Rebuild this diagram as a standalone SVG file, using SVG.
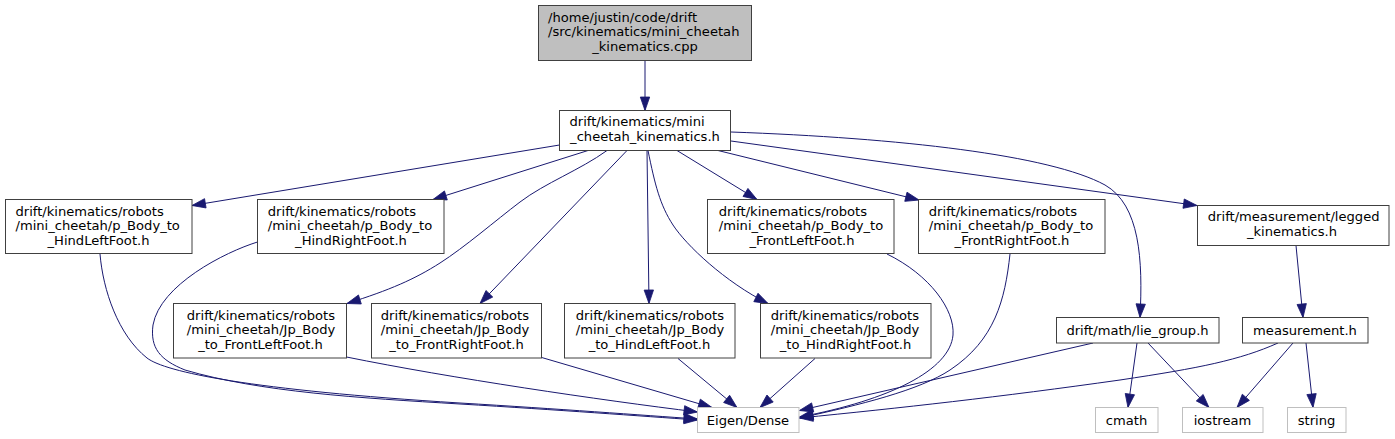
<svg xmlns="http://www.w3.org/2000/svg" width="1395" height="439" viewBox="0 0 1395 439">
<defs>
<style>
.n rect{fill:#fff;stroke:#404040;stroke-width:1}
.root rect{fill:#bfbfbf}
.leaf rect{stroke:#bfbfbf}
text{font-family:"DejaVu Sans","Liberation Sans",sans-serif;font-size:13.1px;fill:#000}
.m{text-anchor:middle}
.e path{fill:none;stroke:#191970;stroke-width:1;marker-end:url(#arr)}
</style>
<marker id="arr" markerUnits="userSpaceOnUse" markerWidth="14" markerHeight="10" viewBox="0 0 14 10" refX="13.5" refY="5" orient="auto" overflow="visible">
<path d="M0,0.3 L13.5,5 L0,9.7 z" fill="#191970" stroke="#191970" stroke-width="0.8"/>
</marker>
</defs>
<rect width="1395" height="439" fill="#fff"/>
<g class="e" id="edges">
<path d="M645,60.5 L645,110.5"/>
<path d="M559.5,145 L192,205.5"/>
<path d="M588,150.5 L433,199.5"/>
<path d="M607,150.5 C580,170 545,183 520,202 C495,221 465,247 440,263 C415,279 390,290 347,303.5"/>
<path d="M627,150.5 L480,303.5"/>
<path d="M647,150.5 L649,303.5"/>
<path d="M648,150.5 C655,185 660,205 673,225 C686,245 725,282 768,303.5"/>
<path d="M677,150.5 L757,199.5"/>
<path d="M718,150.5 L919,200"/>
<path d="M731,141 L1197,205.5"/>
<path d="M731,132 C900,138 1050,155 1105,185 C1140,205 1143,260 1140,317.5"/>
<path d="M1296,245.5 L1303,317.5"/>
<path d="M1137,343 L1128,407.5"/>
<path d="M1148,343 L1209,407.5"/>
<path d="M1293,343 L1237,407.5"/>
<path d="M1306,343 L1313,407.5"/>
<path d="M1278,343 C1240,360 1200,368 1120,380 C1000,397 900,408 799.5,418"/>
<path d="M1093,343 L799.5,410.5"/>
<path d="M100,254 C103,290 118,335 147,358 C165,372 250,390 460,403 C560,409 640,415 697.5,419"/>
<path d="M257.5,242 C225,252 160,285 153,325 C150,348 160,360 185,370 C260,392 360,398 460,404 C560,410 640,416 697.5,420"/>
<path d="M346.5,357 C450,378 600,400 697.5,412"/>
<path d="M540,357 L712,407.5"/>
<path d="M678,358.5 L737,407.5"/>
<path d="M815,358.5 L760,407.5"/>
<path d="M887,254 C930,275 955,310 953,335 C950,370 890,400 799.5,417"/>
<path d="M1010,254 C1005,300 995,340 950,370 C920,390 860,405 799.5,418"/>
</g>
<g class="n root" id="node_cpp">
<rect x="538.5" y="5.5" width="213" height="55"/>
<text x="548" y="21.5">/home/justin/code/drift</text>
<text x="548" y="36.2">/src/kinematics/mini_cheetah</text>
<text class="m" x="645" y="50.8">_kinematics.cpp</text>
</g>
<g class="n" id="node_main">
<rect x="559.5" y="110.5" width="171" height="40"/>
<text x="569.5" y="126.3">drift/kinematics/mini</text>
<text class="m" x="645" y="140.8">_cheetah_kinematics.h</text>
</g>
<g class="n" id="node_pHL">
<rect x="5.5" y="199.5" width="186.5" height="54"/>
<text x="15.5" y="215.5">drift/kinematics/robots</text>
<text x="15.5" y="230.2">/mini_cheetah/p_Body_to</text>
<text class="m" x="98.5" y="244.8">_HindLeftFoot.h</text>
</g>
<g class="n" id="node_pHR">
<rect x="257.5" y="199.5" width="186.5" height="54"/>
<text x="267.8" y="215.5">drift/kinematics/robots</text>
<text x="267.8" y="230.2">/mini_cheetah/p_Body_to</text>
<text class="m" x="351" y="244.8">_HindRightFoot.h</text>
</g>
<g class="n" id="node_pFL">
<rect x="707.5" y="199.5" width="186.5" height="54"/>
<text x="718.8" y="215.5">drift/kinematics/robots</text>
<text x="718.8" y="230.2">/mini_cheetah/p_Body_to</text>
<text class="m" x="802" y="244.8">_FrontLeftFoot.h</text>
</g>
<g class="n" id="node_pFR">
<rect x="918.5" y="199.5" width="186.5" height="54"/>
<text x="928.8" y="215.5">drift/kinematics/robots</text>
<text x="928.8" y="230.2">/mini_cheetah/p_Body_to</text>
<text class="m" x="1012" y="244.8">_FrontRightFoot.h</text>
</g>
<g class="n" id="node_legged">
<rect x="1197.5" y="205.5" width="191.5" height="40"/>
<text x="1207.8" y="221.3">drift/measurement/legged</text>
<text class="m" x="1292" y="235.8">_kinematics.h</text>
</g>
<g class="n" id="node_JpFL">
<rect x="173.5" y="303.5" width="173" height="54.5"/>
<text x="186.8" y="319.5">drift/kinematics/robots</text>
<text x="186.8" y="334.2">/mini_cheetah/Jp_Body</text>
<text class="m" x="260.5" y="348.8">_to_FrontLeftFoot.h</text>
</g>
<g class="n" id="node_JpFR">
<rect x="371.5" y="303.5" width="170" height="54.5"/>
<text x="380.8" y="319.5">drift/kinematics/robots</text>
<text x="380.8" y="334.2">/mini_cheetah/Jp_Body</text>
<text class="m" x="456.5" y="348.8">_to_FrontRightFoot.h</text>
</g>
<g class="n" id="node_JpHL">
<rect x="564.5" y="303.5" width="170.5" height="54.5"/>
<text x="575.8" y="319.5">drift/kinematics/robots</text>
<text x="575.8" y="334.2">/mini_cheetah/Jp_Body</text>
<text class="m" x="649.5" y="348.8">_to_HindLeftFoot.h</text>
</g>
<g class="n" id="node_JpHR">
<rect x="760.5" y="303.5" width="170.5" height="54.5"/>
<text x="770.8" y="319.5">drift/kinematics/robots</text>
<text x="770.8" y="334.2">/mini_cheetah/Jp_Body</text>
<text class="m" x="845.5" y="348.8">_to_HindRightFoot.h</text>
</g>
<g class="n" id="node_lie">
<rect x="1056.5" y="317.5" width="162.5" height="25.5"/>
<text class="m" x="1137.5" y="335">drift/math/lie_group.h</text>
</g>
<g class="n" id="node_meas">
<rect x="1242.5" y="317.5" width="125.5" height="25.5"/>
<text class="m" x="1305" y="335">measurement.h</text>
</g>
<g class="n leaf" id="node_cmath">
<rect x="1095.5" y="407.5" width="62.5" height="25"/>
<text class="m" x="1126.5" y="424.5">cmath</text>
</g>
<g class="n leaf" id="node_iostream">
<rect x="1182.5" y="407.5" width="80.5" height="25"/>
<text class="m" x="1222.5" y="424.5">iostream</text>
</g>
<g class="n leaf" id="node_string">
<rect x="1287.5" y="407.5" width="58.5" height="25"/>
<text class="m" x="1316.5" y="424.5">string</text>
</g>
<g class="n leaf" id="node_eigen">
<rect x="697.5" y="407.5" width="101.5" height="25"/>
<text class="m" x="748" y="424.5">Eigen/Dense</text>
</g>
</svg>
